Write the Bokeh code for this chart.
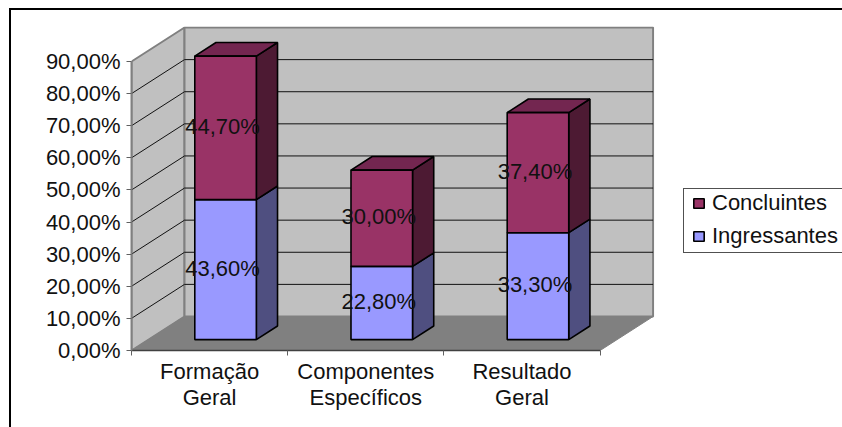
from bokeh.embed import file_html
from bokeh.models import FixedTicker, InlineStyleSheet, Legend, LegendItem, LinearAxis, Range1d
from bokeh.plotting import figure
from bokeh.resources import INLINE

categories = ["Formação\nGeral", "Componentes\nEspecíficos", "Resultado\nGeral"]
ingressantes = [43.6, 22.8, 33.3]
concluintes = [44.7, 30.0, 37.4]
value_labels_ing = ["43,60%", "22,80%", "33,30%"]
value_labels_con = ["44,70%", "30,00%", "37,40%"]
y_ticks = [0, 10, 20, 30, 40, 50, 60, 70, 80, 90]
y_tick_labels = ["0,00%", "10,00%", "20,00%", "30,00%", "40,00%",
                 "50,00%", "60,00%", "70,00%", "80,00%", "90,00%"]

FONT = "Liberation Sans"
FONT_SIZE = "22px"

# Pixel layout of the plotting frame
W, H = 842, 427
LEFT, RIGHT_EDGE, TOP, BOTTOM_EDGE = 131, 654, 26, 350
PX_X, PX_Y = 156.2, 3.211

# Oblique projection: depth 0 is the front of the floor, depth 1 the back wall
DEPTH_X = 53 / PX_X
DEPTH_Y = 34 / PX_Y
BAR_WIDTH = 0.394
BAR_D0, BAR_D1 = 0.32, 0.72
BAR_SHIFT = -1 / PX_X


def proj(x, v, d):
    return x + d * DEPTH_X, v + d * DEPTH_Y


def poly(*points):
    xs, ys = zip(*(proj(*pt) for pt in points))
    return list(xs), list(ys)


# Outer rule of the chart (top and left sides fall inside the page) and the
# tighter box around the legend entries, which runs off the right of the page
page_rules = InlineStyleSheet(css=""":host::before {
    content: ""; position: absolute; left: 9px; top: 8px; z-index: 10;
    width: 833px; height: 419px; box-sizing: border-box;
    border-top: 2px solid black; border-left: 2px solid black;
    pointer-events: none;
}
:host::after {
    content: ""; position: absolute; left: 683px; top: 188px; z-index: 10;
    width: 159px; height: 65px; box-sizing: border-box;
    border: 1px solid #505050; border-right: none;
    pointer-events: none;
}""")

p = figure(
    frame_width=RIGHT_EDGE - LEFT, frame_height=BOTTOM_EDGE - TOP,
    output_backend="svg", toolbar_location=None,
    x_range=Range1d(0, (RIGHT_EDGE - LEFT) / PX_X),
    y_range=Range1d(0, (BOTTOM_EDGE - TOP) / PX_Y),
    x_axis_type=None, y_axis_type=None,
    min_border_left=LEFT, min_border_right=W - RIGHT_EDGE,
    min_border_top=TOP, min_border_bottom=H - BOTTOM_EDGE,
    background_fill_color=None, border_fill_color="white", outline_line_color=None,
    stylesheets=[page_rules],
)
p.grid.visible = False

y_axis = LinearAxis(
    ticker=FixedTicker(ticks=y_ticks), bounds=(0, 90),
    major_label_overrides=dict(zip(y_ticks, y_tick_labels)),
    axis_line_color="#808080", axis_line_width=2,
    major_tick_line_color="#606060", major_tick_line_width=1,
    major_tick_in=0, major_tick_out=5, minor_tick_in=0, minor_tick_out=0,
    major_label_standoff=6, major_label_text_font=FONT,
    major_label_text_font_size=FONT_SIZE, major_label_text_color="#111111",
)
p.add_layout(y_axis, "left")

n = len(categories)
centres = [i + 0.5 for i in range(n)]
x_axis = LinearAxis(
    ticker=FixedTicker(ticks=centres, minor_ticks=list(range(n + 1))), bounds=(0, n),
    major_label_overrides=dict(zip(centres, categories)),
    axis_line_color="#404040", axis_line_width=1.5,
    major_tick_in=0, major_tick_out=0,
    minor_tick_line_color="#606060", minor_tick_in=0, minor_tick_out=5,
    major_label_standoff=3, major_label_text_font=FONT,
    major_label_text_font_size=FONT_SIZE, major_label_text_color="#111111",
    major_label_text_line_height=1.05,
)
p.add_layout(x_axis, "below")

top = y_ticks[-1]
wall = dict(fill_color="#C0C0C0", line_color="#808080", line_width=2)
p.patch(*poly((0, 0, 0), (0, top, 0), (0, top, 1), (0, 0, 1)), **wall)
p.patch(*poly((0, 0, 1), (0, top, 1), (n, top, 1), (n, 0, 1)), **wall)
p.patch(*poly((0, 0, 0), (0, 0, 1), (n, 0, 1), (n, 0, 0)),
        fill_color="#808080", line_color="#808080", line_width=1)

# Gridlines run across the side wall and then along the back wall
grid_xs, grid_ys = [], []
for t in y_ticks[1:-1]:
    xs, ys = poly((0, t, 0), (0, t, 1))
    grid_xs.append(xs)
    grid_ys.append(ys)
    xs, ys = poly((0, t, 1), (n, t, 1))
    grid_xs.append(xs)
    grid_ys.append(ys)
p.multi_line(grid_xs, grid_ys, line_color="#111111", line_width=1)

edge = dict(line_color="black", line_width=1.6)


def segment(i, v0, v1, front, side, roof=None):
    """Draw one stacked box of a column; the roof only on the topmost box."""
    x0 = centres[i] + BAR_SHIFT - BAR_WIDTH / 2
    x1 = centres[i] + BAR_SHIFT + BAR_WIDTH / 2
    p.patch(*poly((x1, v0, BAR_D0), (x1, v1, BAR_D0), (x1, v1, BAR_D1), (x1, v0, BAR_D1)),
            fill_color=side, **edge)
    if roof:
        p.patch(*poly((x0, v1, BAR_D0), (x1, v1, BAR_D0), (x1, v1, BAR_D1), (x0, v1, BAR_D1)),
                fill_color=roof, **edge)
    return p.patch(*poly((x0, v0, BAR_D0), (x0, v1, BAR_D0), (x1, v1, BAR_D0), (x1, v0, BAR_D0)),
                   fill_color=front, **edge)


r_ing = r_con = None
for i in range(n):
    a, b = ingressantes[i], concluintes[i]
    r_ing = segment(i, 0, a, "#9999FF", "#4F4F80")
    r_con = segment(i, a, a + b, "#993366", "#4D1A33", "#732650")

# Value labels sit at the middle of each front face
label_x, label_y, label_text = [], [], []
for i in range(n):
    a, b = ingressantes[i], concluintes[i]
    for mid, text in ((a / 2, value_labels_ing[i]), (a + b / 2, value_labels_con[i])):
        x, y = proj(centres[i], mid, BAR_D0)
        label_x.append(x - 4 / PX_X)
        label_y.append(y + 1.5 / PX_Y)
        label_text.append(text)
p.text(label_x, label_y, text=label_text, text_align="center", text_baseline="middle",
       text_font=dict(value=FONT), text_font_size=dict(value=FONT_SIZE), text_color="#111111")

legend = Legend(
    items=[LegendItem(label="Concluintes", renderers=[r_con]),
           LegendItem(label="Ingressantes", renderers=[r_ing])],
    location=(683 - RIGHT_EDGE, BOTTOM_EDGE - 258), orientation="vertical",
    margin=0, padding=9, spacing=7, glyph_width=13, glyph_height=12, label_standoff=7,
    label_text_font=FONT, label_text_font_size=FONT_SIZE, label_text_color="#111111",
    border_line_alpha=0, background_fill_alpha=0,
)
p.add_layout(legend, "right")

open("out.html", "w").write(file_html(p, INLINE))
